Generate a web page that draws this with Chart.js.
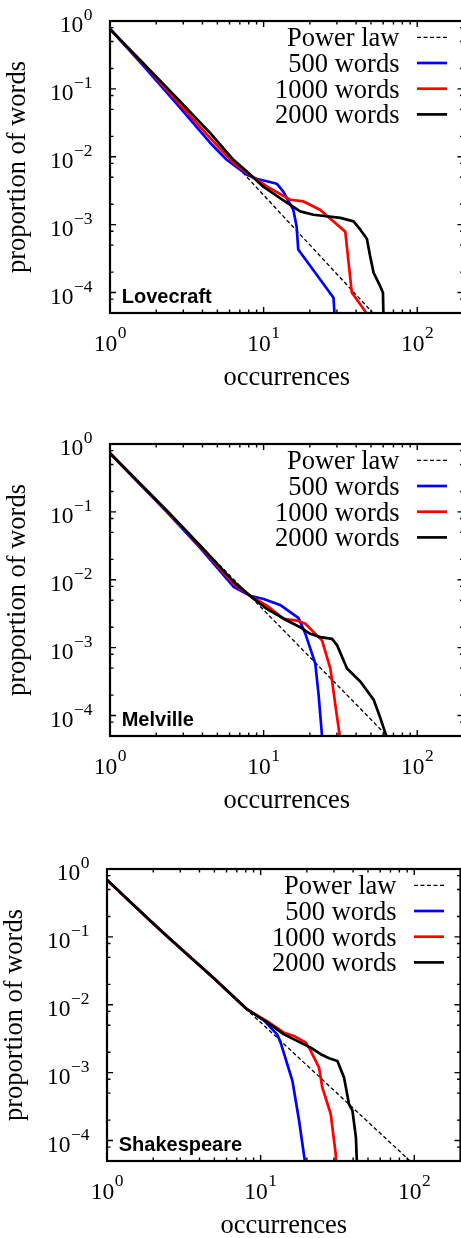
<!DOCTYPE html>
<html>
<head>
<meta charset="utf-8">
<title>Word occurrences</title>
<script src="https://cdn.jsdelivr.net/npm/chart.js@4"></script>
<style>
  html, body { margin: 0; padding: 0; background: #fff; }
  body { width: 461px; height: 1238px; overflow: hidden; position: relative; }
  canvas { position: absolute; }
  #c1 { left: 0; top: 0; }
  #c2 { left: 0; top: 423px; }
  #c3 { left: -3px; top: 848px; }
</style>
</head>
<body>
<canvas id="c1" width="466" height="423"></canvas>
<canvas id="c2" width="466" height="423"></canvas>
<canvas id="c3" width="466" height="423"></canvas>
<script>
// legend labels + panel names
var seriesLabels = ['Power law', '500 words', '1000 words', '2000 words'];
var authors = ['Lovecraft', 'Melville', 'Shakespeare'];

// tick values and labels (exponents of 10)
var xMajorTicks = [1, 10, 100];
var xTickExp = ['0', '1', '2'];
var yMajorTicks = [1, 0.1, 0.01, 0.001, 0.0001];
var yTickExp = ['0', '\u22121', '\u22122', '\u22123', '\u22124'];
var xMinorSteps = [2, 3, 4, 5, 6, 7, 8, 9];
var yMinorSteps = [2, 5, 8];

// Lovecraft
var loveLawX = [1, 51.5];
var loveLawY = [0.75, 0.00005];
var loveBlueX = [1, 1.65, 2.72, 4.48, 5.75, 7.78, 9.0, 12.2, 13.4, 15.6, 16.4, 16.8, 28.5, 28.9];
var loveBlueY = [0.77, 0.218, 0.0602, 0.0161, 0.00903, 0.00544, 0.00475, 0.004, 0.0031, 0.00166, 0.00094, 0.00043, 0.000084, 0.00005];
var loveRedX = [1, 1.65, 2.72, 4.48, 6.36, 7.78, 10.5, 14.9, 18.2, 23.3, 28.4, 34.0, 37.5, 45.8, 46.8];
var loveRedY = [0.76, 0.233, 0.0667, 0.019, 0.00816, 0.00582, 0.00366, 0.00233, 0.0022, 0.00166, 0.00112, 0.00079, 0.0001, 0.000053, 0.00005];
var loveBlackX = [1, 1.65, 2.72, 4.48, 6.36, 7.78, 10.0, 12.8, 17.3, 21.1, 31.6, 38.5, 42.5, 47, 49.4, 52, 57.4, 59.8, 60.2];
var loveBlackY = [0.755, 0.237, 0.0738, 0.0225, 0.00903, 0.00608, 0.0036, 0.00247, 0.00157, 0.0014, 0.00126, 0.00112, 0.00085, 0.00062, 0.00034, 0.000195, 0.000124, 0.0000991, 0.00005];

// Melville
var melLawX = [1, 63.7];
var melLawY = [0.73, 0.00005];
var melBlueX = [1, 2.34, 3.86, 6.37, 8.18, 10, 12.8, 16.9, 18.7, 21.7, 22.8, 24.0];
var melBlueY = [0.73, 0.1, 0.0295, 0.0079, 0.0058, 0.00521, 0.00426, 0.00272, 0.0016, 0.000583, 0.0002, 0.00005];
var melRedX = [1, 2.34, 3.86, 6.37, 8.18, 10.5, 13.5, 16.5, 18.7, 22.8, 24.0, 27.2, 29.3, 31.3];
var melRedY = [0.73, 0.103, 0.031, 0.0087, 0.0058, 0.00417, 0.00266, 0.00251, 0.00225, 0.00143, 0.00128, 0.000493, 0.000143, 0.00005];
var melBlackX = [1, 2.34, 3.86, 6.37, 8.18, 10.5, 14.2, 17.3, 20.1, 23.4, 27.9, 30.1, 34.9, 42.7, 52.1, 57.6, 62.9];
var melBlackY = [0.73, 0.105, 0.032, 0.0094, 0.0058, 0.00372, 0.00251, 0.002, 0.0016, 0.00143, 0.00135, 0.00108, 0.000493, 0.000315, 0.00017, 0.000091, 0.00005];

// Shakespeare
var shkLawX = [1, 94];
var shkLawY = [0.69, 0.00005];
var shkBlueX = [1, 1.92, 2.46, 4.96, 8.18, 10.5, 12.8, 13.5, 16.1, 17.8, 19.4];
var shkBlueY = [0.69, 0.172, 0.102, 0.0245, 0.00855, 0.0059, 0.00367, 0.00277, 0.000759, 0.000196, 0.00005];
var shkRedX = [1, 1.92, 2.46, 4.96, 8.18, 11.0, 14.2, 16.5, 19.7, 21.2, 24.0, 25.2, 28.6, 30.8, 31.0];
var shkRedY = [0.69, 0.172, 0.102, 0.0245, 0.00855, 0.00576, 0.00388, 0.00347, 0.00277, 0.00209, 0.00119, 0.000606, 0.000246, 0.000064, 0.00005];
var shkBlackX = [1, 1.92, 2.46, 4.96, 8.18, 11.0, 14.2, 18.2, 21.2, 24.6, 27.9, 31.6, 34.9, 37.6, 39.6, 41.7, 42.3];
var shkBlackY = [0.69, 0.172, 0.102, 0.0245, 0.00855, 0.00557, 0.00367, 0.00277, 0.00234, 0.00187, 0.00163, 0.00149, 0.00085, 0.000345, 0.000275, 0.000112, 0.00005];

var serif = 'Liberation Serif';

function toPoints(xs, ys) {
    return xs.map(function (x, i) { return { x: x, y: ys[i] }; });
}

// gnuplot style: frame, inward ticks, 10^n labels, legend in the corner, panel name
var gnuFrame = {
    id: 'gnuFrame',
    afterDatasetsDraw: function (chart, args, opts) {
        var ctx = chart.ctx;
        var a = chart.chartArea;
        var xs = chart.scales.x;
        var ys = chart.scales.y;

        ctx.save();
        ctx.strokeStyle = '#000';
        ctx.lineWidth = 1.4;
        ctx.beginPath();
        function vTick(v, len) {
            var px = xs.getPixelForValue(v);
            ctx.moveTo(px, a.bottom); ctx.lineTo(px, a.bottom - len);
            ctx.moveTo(px, a.top); ctx.lineTo(px, a.top + len);
        }
        function hTick(v, len) {
            var py = ys.getPixelForValue(v);
            ctx.moveTo(a.left, py); ctx.lineTo(a.left + len, py);
            ctx.moveTo(a.right, py); ctx.lineTo(a.right - len, py);
        }
        xMajorTicks.forEach(function (d) {
            vTick(d, 6);
            xMinorSteps.forEach(function (m) {
                if (d * m < xs.max) vTick(d * m, 3.5);
            });
        });
        yMajorTicks.forEach(function (d) {
            hTick(d, 6);
        });
        [0.00001, 0.0001, 0.001, 0.01, 0.1].forEach(function (d) {
            yMinorSteps.forEach(function (m) {
                var v = d * m;
                if (v > ys.min * 1.0001 && v < ys.max) hTick(v, 3.5);
            });
        });
        ctx.stroke();

        // frame
        ctx.lineWidth = 2.2;
        ctx.strokeRect(a.left, a.top, a.right - a.left, a.bottom - a.top);

        // tick labels
        ctx.fillStyle = '#000';
        ctx.textBaseline = 'alphabetic';
        ctx.textAlign = 'left';
        var baseFont = '23.5px "' + serif + '"';
        var expFont = '17.5px "' + serif + '"';
        yMajorTicks.forEach(function (v, i) {
            var py = ys.getPixelForValue(v);
            ctx.font = expFont;
            var we = ctx.measureText(yTickExp[i]).width;
            ctx.font = baseFont;
            var wb = ctx.measureText('10').width;
            var right = a.left - 17.5;
            ctx.fillText('10', right - we - wb - 0.5, py + 11);
            ctx.font = expFont;
            ctx.fillText(yTickExp[i], right - we, py - 1);
        });
        xMajorTicks.forEach(function (v, i) {
            var px = xs.getPixelForValue(v);
            ctx.font = expFont;
            var we = ctx.measureText(xTickExp[i]).width;
            ctx.font = baseFont;
            var wb = ctx.measureText('10').width;
            var x0 = px - (wb + we + 0.5) / 2;
            var base = a.bottom + 38.4;
            ctx.fillText('10', x0, base);
            ctx.font = expFont;
            ctx.fillText(xTickExp[i], x0 + wb + 0.5, base - 13);
        });

        // legend
        ctx.font = '26.5px "' + serif + '"';
        ctx.textAlign = 'right';
        chart.data.datasets.forEach(function (ds, i) {
            var rowY = a.top + 16.3 + i * 25.7;
            ctx.fillText(ds.label, a.right - 64, rowY + 9);
            ctx.save();
            ctx.strokeStyle = ds.borderColor;
            ctx.lineWidth = ds.borderWidth;
            ctx.setLineDash(ds.borderDash || []);
            ctx.beginPath();
            ctx.moveTo(a.right - 46.5, rowY);
            ctx.lineTo(a.right - 16.5, rowY);
            ctx.stroke();
            ctx.restore();
        });

        // panel name
        ctx.textAlign = 'left';
        ctx.font = 'bold 20px "Liberation Sans"';
        ctx.fillText(opts.author, a.left + 11.7, a.bottom - 10.5);
        ctx.restore();
    }
};

function buildChart(id, author, lawX, lawY, blueX, blueY, redX, redY, blackX, blackY) {
    var ctx = document.getElementById(id).getContext('2d');
    return new Chart(ctx, {
        type: 'line',
        data: {
            datasets: [
                { label: seriesLabels[0], data: toPoints(lawX, lawY), borderColor: '#000', borderWidth: 1.3, borderDash: [4, 2.5], order: 3 },
                { label: seriesLabels[1], data: toPoints(blueX, blueY), borderColor: '#0000ff', borderWidth: 2.7, order: 2 },
                { label: seriesLabels[2], data: toPoints(redX, redY), borderColor: '#ff0000', borderWidth: 2.7, order: 1 },
                { label: seriesLabels[3], data: toPoints(blackX, blackY), borderColor: '#000', borderWidth: 2.7, order: 0 }
            ]
        },
        options: {
            responsive: false,
            animation: false,
            layout: { padding: { top: 21, right: 2.5, left: 0, bottom: 0 } },
            elements: {
                point: { radius: 0 },
                line: { tension: 0, borderJoinStyle: 'round', fill: false }
            },
            scales: {
                x: {
                    type: 'logarithmic',
                    min: 1,
                    max: 200,
                    grid: { display: false },
                    border: { display: false },
                    ticks: { display: false },
                    title: {
                        display: true,
                        text: 'occurrences',
                        color: '#000',
                        font: { family: serif, size: 26.5 },
                        padding: { top: 0, bottom: 29 }
                    },
                    afterFit: function (scale) { scale.height = 110; }
                },
                y: {
                    type: 'logarithmic',
                    min: 0.00005,
                    max: 1,
                    grid: { display: false },
                    border: { display: false },
                    ticks: { display: false },
                    title: {
                        display: true,
                        text: 'proportion of words',
                        color: '#000',
                        font: { family: serif, size: 26.5 },
                        padding: { top: 2, bottom: 0 }
                    },
                    afterFit: function (scale) { scale.width = 110; }
                }
            },
            plugins: {
                legend: { display: false },
                tooltip: { enabled: false },
                gnuFrame: { author: author }
            }
        },
        plugins: [gnuFrame]
    });
}

document.addEventListener('DOMContentLoaded', function () {
    buildChart('c1', authors[0], loveLawX, loveLawY, loveBlueX, loveBlueY, loveRedX, loveRedY, loveBlackX, loveBlackY);
    buildChart('c2', authors[1], melLawX, melLawY, melBlueX, melBlueY, melRedX, melRedY, melBlackX, melBlackY);
    buildChart('c3', authors[2], shkLawX, shkLawY, shkBlueX, shkBlueY, shkRedX, shkRedY, shkBlackX, shkBlackY);
});
</script>
</body>
</html>
